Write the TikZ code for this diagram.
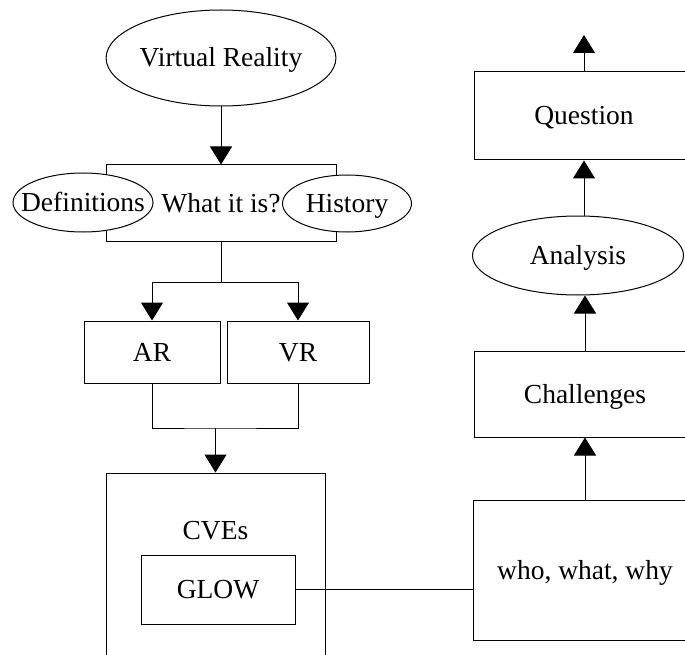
\documentclass[tikz,border=0pt]{standalone}
\usepackage{fontspec}
\setmainfont{Liberation Serif}
\usetikzlibrary{shapes.geometric,arrows.meta}

\tikzset{every picture/.style={line width=1pt},
  every node/.style={text height=24pt,text depth=6pt},
  oval/.style={draw,ellipse,inner sep=0pt,fill=white},
  box/.style={draw,rectangle,inner sep=0pt,fill=white},
  arr/.style={-{Triangle[width=22pt,length=18pt]}}}

\begin{document}
\begin{tikzpicture}[x=1pt,y=1pt,yscale=-1,xscale=1,font=\fontsize{27.5}{32}\selectfont]
	\useasboundingbox (0,0) rectangle (685,655);
	\clip (0,0) rectangle (685,655);

	%Shape: Ellipse
	\node[oval,minimum width=215pt,minimum height=96pt] (vreal) at (221,58) {Virtual Reality};
	%Shape: Rectangle
	\node[box,minimum width=230pt,minimum height=76pt] (whatis) at (221,203) {What it is?};
	\node[oval,minimum width=140pt,minimum height=59pt] (defs) at (83,202.5) {\makebox[0pt]{Definitions}};
	\node[oval,minimum width=129pt,minimum height=57pt] (hist) at (347,203.5) {\makebox[0pt]{History}};
	%Shape: Rectangle
	\node[box,minimum width=136pt,minimum height=62pt] (ar) at (152,352) {AR};
	\node[box,minimum width=142pt,minimum height=62pt] (vrbox) at (298,352) {VR};
	%Shape: Rectangle
	\node[box,minimum width=219pt,minimum height=227pt] (cves) at (215.5,586.5) {};
	\node (cvestxt) at (215.5,530) {CVEs};
	\node[box,minimum width=154pt,minimum height=69pt] (glow) at (218,589.5) {GLOW};
	%Shape: Rectangle
	\node[box,minimum width=224pt,minimum height=140pt] (who) at (585,570) {who, what, why};
	\node[box,minimum width=222pt,minimum height=86pt] (chal) at (585,394) {Challenges};
	\node[oval,minimum width=211pt,minimum height=79pt] (anal) at (578,255.5) {\makebox[0pt]{Analysis}};
	\node[box,minimum width=220pt,minimum height=88pt] (ques) at (584,116) {Question};

	\coordinate (split) at (221,282);
	\coordinate (merge) at (215.5,428);
	\coordinate (qtop) at (584,35);

	%Straight Lines
	\draw[arr] (vreal.south) -- (whatis.north);
	\draw (whatis.south) -- (split);
	\draw[arr] (split) -| (ar.north);
	\draw[arr] (split) -| (vrbox.north);
	\draw (ar.south) |- (merge) -| (vrbox.south);
	\draw[arr] (merge) -- (cves.north);
	\draw (glow.east) -- (glow.east -| who.west);
	\draw[arr] (who.north) -- (chal.south);
	\draw[arr] (chal.north) -- (chal.north |- anal.south);
	\draw[arr] (ques.south |- anal.north) -- (ques.south);
	\draw[arr] (ques.north) -- (qtop);

\end{tikzpicture}
\end{document}
